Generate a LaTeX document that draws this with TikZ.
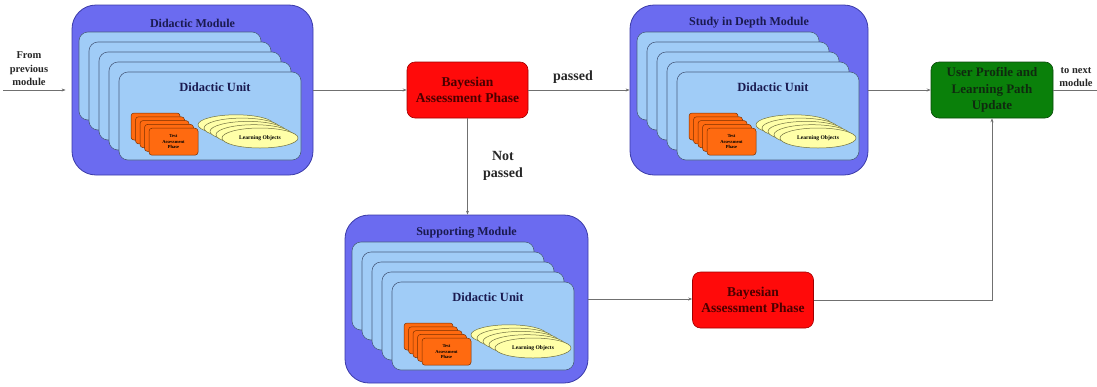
\documentclass[tikz,border=0pt]{standalone}
\usepackage{fontspec}
\setmainfont{Liberation Serif}
\usetikzlibrary{arrows.meta,shapes.geometric}
\definecolor{modblue}{HTML}{6B6BF0}
\definecolor{modedge}{HTML}{3A3AA8}
\definecolor{cardblue}{HTML}{A0CCF7}
\definecolor{cardedge}{HTML}{4A5E80}
\definecolor{orng}{HTML}{FF6A10}
\definecolor{orngedge}{HTML}{7A3000}
\definecolor{ylw}{HTML}{FFFFA8}
\definecolor{ylwedge}{HTML}{707040}
\definecolor{txtnavy}{HTML}{1A1A50}
\definecolor{bayred}{HTML}{FF0A0A}
\definecolor{bayedge}{HTML}{A00000}
\definecolor{baytext}{HTML}{4A0000}
\definecolor{grn}{HTML}{0A800A}
\definecolor{grnedge}{HTML}{0A4A0A}
\definecolor{grntext}{HTML}{0F2A0F}
\definecolor{lineclr}{HTML}{707070}
\tikzset{
  module/.style={draw=modedge, fill=modblue, line width=0.8pt, rounded corners=24pt, inner sep=0pt},
  modtitle/.style={font=\bfseries\fontsize{12}{13}\selectfont, text=txtnavy},
  card/.style={draw=cardedge, fill=cardblue, line width=0.6pt, rounded corners=9pt, minimum width=182pt, minimum height=88pt, inner sep=0pt},
  unittitle/.style={font=\bfseries\fontsize{12.5}{13}\selectfont, text=txtnavy},
  tcard/.style={draw=orngedge, fill=orng, line width=0.5pt, rounded corners=3pt, minimum width=49pt, minimum height=27pt, inner sep=0pt, align=center, font=\bfseries\fontsize{4.6}{5.4}\selectfont},
  lobj/.style={draw=ylwedge, fill=ylw, line width=0.5pt, ellipse, minimum width=76pt, minimum height=20pt, inner sep=0pt, font=\bfseries\fontsize{5.6}{6}\selectfont},
  bayes/.style={draw=bayedge, fill=bayred, line width=0.6pt, rounded corners=8pt, minimum width=121pt, minimum height=56pt, inner sep=0pt, align=center, text=baytext, font=\bfseries\fontsize{13.5}{16}\selectfont},
  upd/.style={draw=grnedge, fill=grn, line width=0.6pt, rounded corners=8pt, minimum width=122pt, minimum height=56pt, inner sep=0pt, align=center, text=grntext, font=\bfseries\fontsize{13}{16.5}\selectfont},
  lbl/.style={align=center, font=\bfseries\fontsize{10.5}{13.5}\selectfont, text=black!85},
  biglbl/.style={align=center, font=\bfseries\fontsize{14}{17}\selectfont, text=black!85},
  conn/.style={draw=lineclr, line width=0.7pt, -{Stealth[length=4pt,width=3pt,fill=black!80]}},
  plain/.style={draw=lineclr, line width=0.7pt}
}
% #1 name, #2 left, #3 top, #4 width, #5 height, #6 title
\newcommand{\drawmodule}[6]{%
  \node[module, minimum width=#4pt, minimum height=#5pt] (#1) at ({#2+#4/2}, {#3+#5/2}) {};
  \node[modtitle] (#1-title) at ({#2+#4/2}, {#3+18}) {#6};
  \foreach \i in {0,...,4} {
    \node[card] (#1-card\i) at ({#2+7+10*\i+91}, {#3+27+10*\i+44}) {};
  }
  \node[unittitle] (#1-unit) at ({#2+47+96}, {#3+67+15}) {Didactic Unit};
  \foreach \i in {0,...,4} {
    \node[tcard] (#1-test\i) at ({#2+47+12+4.5*\i+24.5}, {#3+67+41+3.8*\i+13.5}) {\ifnum\i=4 Test\\Assessment\\Phase\fi};
  }
  \foreach \i in {0,...,4} {
    \node[lobj] (#1-lo\i) at ({#2+47+141-6*(4-\i)}, {#3+67+66-3.3*(4-\i)}) {\ifnum\i=4 Learning Objects\fi};
  }
}
\begin{document}
\begin{tikzpicture}[x=1pt,y=-1pt]
\useasboundingbox (0,0) rectangle (1097,386);
\drawmodule{dm}{72}{5}{241}{170}{Didactic Module}
\drawmodule{sdm}{630}{5}{238}{170}{Study in Depth Module}
\drawmodule{sup}{345}{215}{243}{168}{Supporting Module}
\node[bayes] (bay1) at (467.5,90) {Bayesian\\Assessment Phase};
\node[bayes] (bay2) at (753,300) {Bayesian\\Assessment Phase};
\node[upd] (upd) at (992,90) {User Profile and\\Learning Path\\Update};
\coordinate (start) at (3,90);
\coordinate (finish) at (1097,90);
\node[lbl] (from) at (29,69) {From\\previous\\module};
\node[lbl] (tonext) at (1076,77) {to next\\module};
\node[biglbl] (passed) at (573,77) {passed};
\node[biglbl] (notpassed) at (503,166) {Not\\passed};
\draw[conn] (start) -- ([xshift=-6pt]dm.west);
\draw[conn] (dm.east) -- (bay1.west);
\draw[conn] (bay1.east) -- (sdm.west);
\draw[conn] (bay1.south) -- (bay1.south |- sup.north);
\draw[conn] (sup.east) -- (sup.east -| bay2.west);
\draw[conn] (bay2.east) -| (upd.south);
\draw[conn] (sdm.east) -- (upd.west);
\draw[plain] (upd.east) -- (finish);
\end{tikzpicture}
\end{document}
